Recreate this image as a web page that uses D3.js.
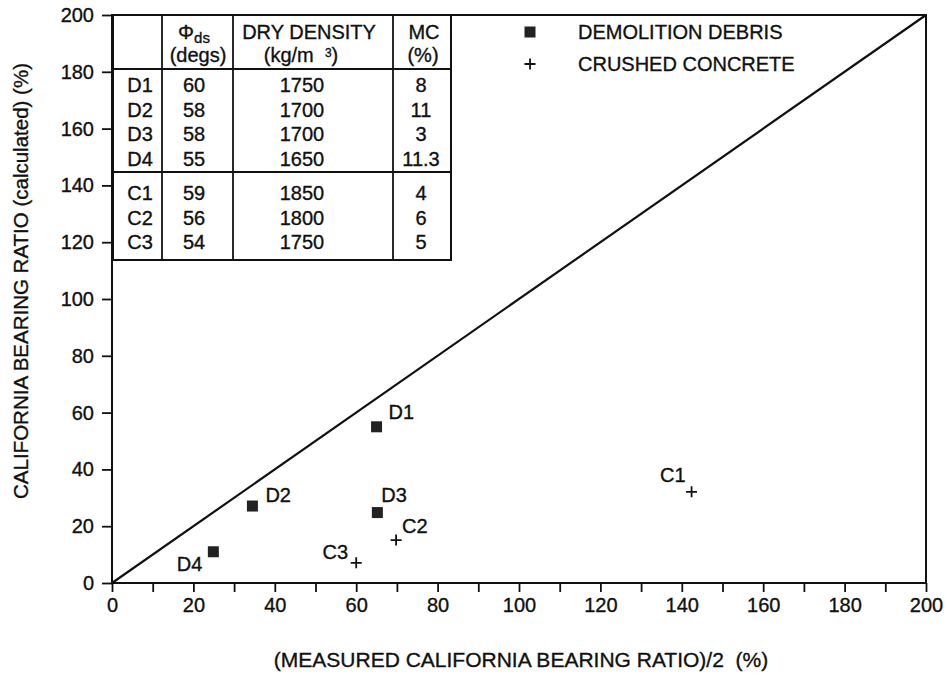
<!DOCTYPE html>
<html>
<head>
<meta charset="utf-8">
<script src="https://cdn.jsdelivr.net/npm/d3@7"></script>
<style>
  html, body { margin: 0; padding: 0; background: #fff; }
  svg { display: block; }
  text { font-family: "Liberation Sans", Arial, Helvetica, sans-serif; fill: #111; stroke: #111; stroke-width: 0.35px; white-space: pre; }
</style>
</head>
<body>
<svg id="chart" width="947" height="675"></svg>
<script>
// ---------- data ----------
const pointIds     = ["D1", "D2", "D3", "D4", "C1", "C2", "C3"];
const pointSeries  = ["DEMOLITION DEBRIS", "DEMOLITION DEBRIS", "DEMOLITION DEBRIS", "DEMOLITION DEBRIS",
                      "CRUSHED CONCRETE", "CRUSHED CONCRETE", "CRUSHED CONCRETE"];
const measuredHalf = [65.0, 34.5, 65.2, 24.9, 142.4, 69.8, 60.0];   // x: (measured CBR)/2 (%)
const calculatedCBR = [55.0, 27.1, 24.8, 11.0, 32.1, 15.1, 7.1];    // y: calculated CBR (%)
const phiDs        = ["60", "58", "58", "55", "59", "56", "54"];
const dryDensity   = ["1750", "1700", "1700", "1650", "1850", "1800", "1750"];
const moisture     = ["8", "11", "3", "11.3", "4", "6", "5"];
const legendItems  = ["DEMOLITION DEBRIS", "CRUSHED CONCRETE"];
const xTickValues  = d3.range(0, 201, 10);
const xTickLabels  = d3.range(0, 201, 20);
const yTickValues  = d3.range(0, 201, 20);
const lineOfEquality = [0, 200];

// ---------- layout ----------
const svg = d3.select("#chart");
const x = d3.scaleLinear().domain([0, 200]).range([112, 926]);
const y = d3.scaleLinear().domain([0, 200]).range([583, 15]);
const FONT = 20;

// label offsets relative to point (layout only)
const labelPos = {
  D1: {dx: 12, dy: -15, anchor: "start"},
  D2: {dx: 13, dy: -11, anchor: "start"},
  D3: {dx: 4,  dy: -18, anchor: "start"},
  D4: {dx: -11, dy: 12, anchor: "end"},
  C1: {dx: -6, dy: -17, anchor: "end"},
  C2: {dx: 6,  dy: -14, anchor: "start"},
  C3: {dx: -8, dy: -11, anchor: "end"}
};

// ---------- axes ----------
const xAxis = d3.axisBottom(x).tickValues(xTickValues).tickSize(9).tickPadding(6)
  .tickFormat(d => xTickLabels.includes(d) ? d3.format("d")(d) : "");
const yAxis = d3.axisLeft(y).tickValues(yTickValues).tickSize(10).tickPadding(8)
  .tickFormat(d3.format("d"));

const gx = svg.append("g").attr("transform", `translate(0,${y(0)})`).call(xAxis);
const gy = svg.append("g").attr("transform", `translate(${x(0)},0)`).call(yAxis);
[gx, gy].forEach(g => {
  g.select(".domain").remove();
  g.selectAll(".tick line").attr("stroke", "#111").attr("stroke-width", 1.8);
  g.selectAll(".tick text").attr("font-size", FONT).attr("fill", "#111")
    .style("font-family", '"Liberation Sans", Arial, sans-serif');
});

// frame
svg.append("rect")
  .attr("x", x(0)).attr("y", y(200))
  .attr("width", x(200) - x(0)).attr("height", y(0) - y(200))
  .attr("fill", "none").attr("stroke", "#111").attr("stroke-width", 2);

// axis titles
svg.append("text")
  .attr("x", 521).attr("y", 667)
  .attr("text-anchor", "middle").attr("font-size", 21)
  .text("(MEASURED CALIFORNIA BEARING RATIO)/2  (%)");

svg.append("text")
  .attr("transform", `translate(28,281) rotate(-90)`)
  .attr("text-anchor", "middle").attr("font-size", 20.5)
  .text("CALIFORNIA BEARING RATIO (calculated) (%)");

// line of equality
svg.append("line")
  .attr("x1", x(lineOfEquality[0])).attr("y1", y(lineOfEquality[0]))
  .attr("x2", x(lineOfEquality[1])).attr("y2", y(lineOfEquality[1]))
  .attr("stroke", "#111").attr("stroke-width", 2.2);

// ---------- points ----------
const pts = pointIds.map((id, i) => ({id, series: pointSeries[i], x: measuredHalf[i], y: calculatedCBR[i]}));
const SQ = 11, PL = 5.5;

function drawMarker(g, series, cx, cy) {
  if (series === "DEMOLITION DEBRIS") {
    g.append("rect").attr("x", cx - SQ / 2).attr("y", cy - SQ / 2)
      .attr("width", SQ).attr("height", SQ).attr("fill", "#222");
  } else {
    g.append("path")
      .attr("d", `M${cx - PL},${cy}H${cx + PL}M${cx},${cy - PL}V${cy + PL}`)
      .attr("stroke", "#111").attr("stroke-width", 1.8).attr("fill", "none");
  }
}

const gp = svg.append("g");
pts.forEach(p => drawMarker(gp, p.series, x(p.x), y(p.y)));

svg.append("g").selectAll("text").data(pts).join("text")
  .attr("x", d => x(d.x) + labelPos[d.id].dx)
  .attr("y", d => y(d.y) + labelPos[d.id].dy)
  .attr("dy", "0.36em")
  .attr("text-anchor", d => labelPos[d.id].anchor)
  .attr("font-size", FONT)
  .text(d => d.id);

// ---------- legend ----------
const legY = [32, 64];
legendItems.forEach((name, i) => {
  drawMarker(svg, name, 530, legY[i]);
  svg.append("text").attr("x", 578).attr("y", legY[i]).attr("dy", "0.36em")
    .attr("font-size", FONT).text(name);
});

// ---------- table ----------
const tbl = {left: 113, top: 15, right: 451, colLines: [162, 233, 393], headBottom: 69, groupLines: [172, 260]};
const colCenters = [140, 194, 302, 421];
const rowY = pointIds.map((id, i) => i < 4 ? 85 + i * 24.6 : 193 + (i - 4) * 24.4);

const gt = svg.append("g");
gt.append("rect").attr("x", tbl.left).attr("y", tbl.top)
  .attr("width", tbl.right - tbl.left).attr("height", tbl.groupLines[1] - tbl.top)
  .attr("fill", "#fff").attr("stroke", "#111").attr("stroke-width", 2);
tbl.colLines.forEach(cx => gt.append("line").attr("x1", cx).attr("x2", cx)
  .attr("y1", tbl.top).attr("y2", tbl.groupLines[1]).attr("stroke", "#111").attr("stroke-width", 1.8));
[tbl.headBottom, tbl.groupLines[0]].forEach(ly => gt.append("line").attr("x1", tbl.left).attr("x2", tbl.right)
  .attr("y1", ly).attr("y2", ly).attr("stroke", "#111").attr("stroke-width", 1.8));

// header
const h1 = gt.append("text").attr("x", colCenters[1]).attr("y", 32).attr("dy", "0.36em")
  .attr("text-anchor", "middle").attr("font-size", FONT);
h1.append("tspan").text("\u03A6");
h1.append("tspan").attr("font-size", 15).attr("dy", "0.25em").text("ds");
gt.append("text").attr("x", colCenters[1] + 4).attr("y", 55).attr("dy", "0.36em")
  .attr("text-anchor", "middle").attr("font-size", FONT).text("(degs)");
gt.append("text").attr("x", 309).attr("y", 32).attr("dy", "0.36em")
  .attr("text-anchor", "middle").attr("font-size", FONT).text("DRY DENSITY");
const h2 = gt.append("text").attr("x", 301).attr("y", 55).attr("dy", "0.36em")
  .attr("text-anchor", "middle").attr("font-size", FONT);
h2.append("tspan").text("(kg/m  ");
h2.append("tspan").attr("font-size", 12).attr("dy", "-0.45em").text("3");
h2.append("tspan").attr("dy", "0.27em").text(")");
gt.append("text").attr("x", 424).attr("y", 32).attr("dy", "0.36em")
  .attr("text-anchor", "middle").attr("font-size", FONT).text("MC");
gt.append("text").attr("x", 423).attr("y", 55).attr("dy", "0.36em")
  .attr("text-anchor", "middle").attr("font-size", FONT).text("(%)");

// body
const cols = [pointIds, phiDs, dryDensity, moisture];
cols.forEach((col, c) => {
  gt.append("g").selectAll("text").data(col).join("text")
    .attr("x", colCenters[c]).attr("y", (d, i) => rowY[i]).attr("dy", "0.36em")
    .attr("text-anchor", "middle").attr("font-size", FONT).text(d => d);
});
</script>
</body>
</html>
